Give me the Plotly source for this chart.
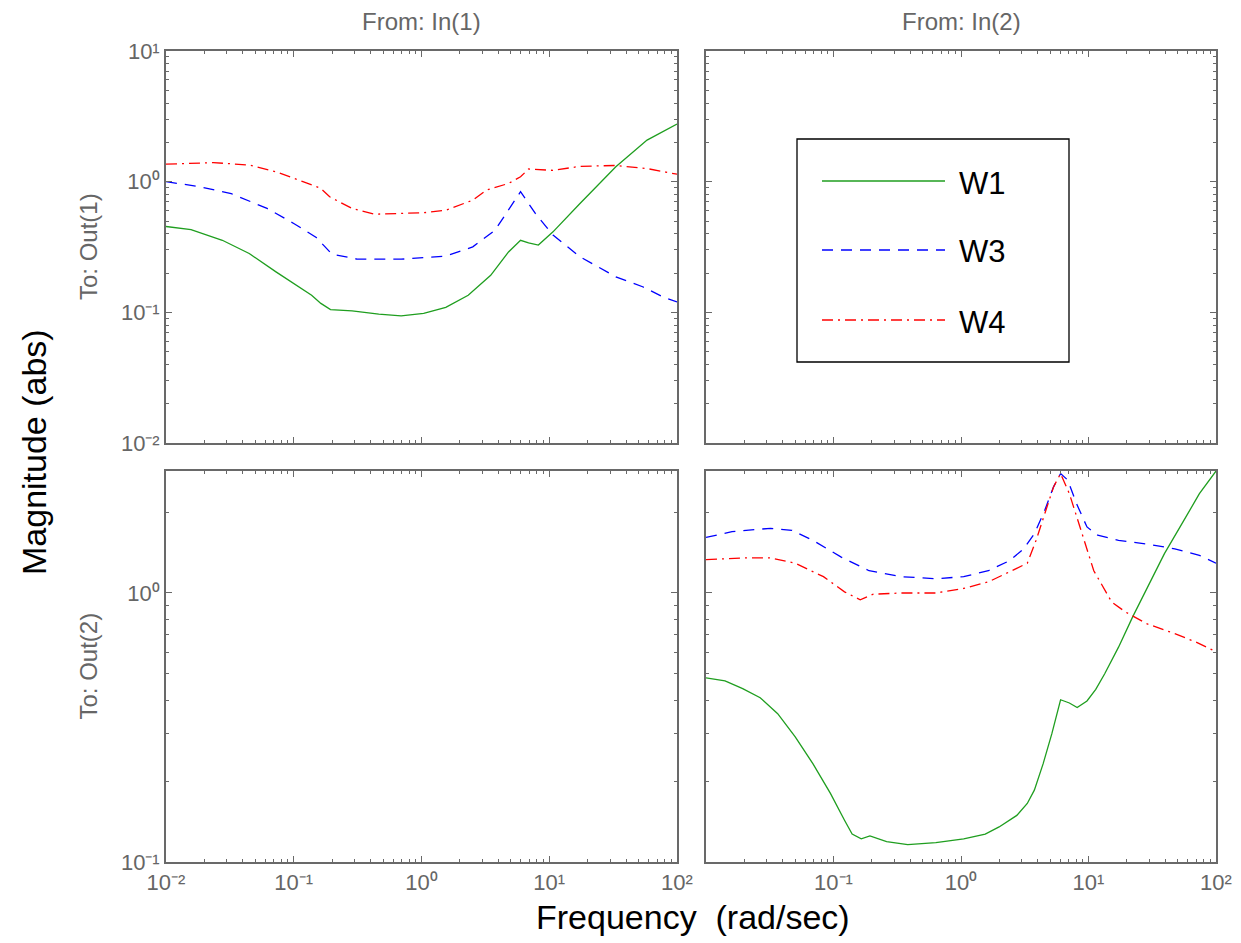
import plotly.graph_objects as go

# ---------------- data ----------------
# Top-left panel: From In(1) -> To Out(1)
f11_w1 = [0.01, 0.0157, 0.0276, 0.0448, 0.0726, 0.138, 0.163, 0.194, 0.286, 0.463, 0.693, 1.04, 1.55,
          2.32, 3.48, 4.80, 5.96, 6.89, 8.22, 10.7, 17.4, 33.2, 58.3, 100]
m11_w1 = [0.454, 0.43, 0.356, 0.282, 0.204, 0.135, 0.117, 0.105, 0.1026, 0.0968, 0.094, 0.098, 0.109,
          0.135, 0.192, 0.290, 0.356, 0.340, 0.327, 0.413, 0.68, 1.30, 2.08, 2.76]

f11_w3 = [0.01, 0.0185, 0.0324, 0.0618, 0.100, 0.150, 0.176, 0.199, 0.310, 0.693, 1.55, 2.52, 3.77,
          4.80, 5.96, 7.78, 10.7, 17.4, 33.2, 53.8, 80.5, 100]
m11_w3 = [1.0, 0.914, 0.81, 0.624, 0.479, 0.374, 0.317, 0.279, 0.256, 0.255, 0.269, 0.317, 0.426,
          0.606, 0.838, 0.571, 0.39, 0.266, 0.187, 0.157, 0.129, 0.12]

f11_w4 = [0.01, 0.0235, 0.0448, 0.0726, 0.118, 0.163, 0.191, 0.286, 0.428, 1.04, 1.55, 2.52, 3.21,
          4.80, 5.96, 6.89, 10.7, 17.4, 33.2, 58.3, 100]
m11_w4 = [1.36, 1.40, 1.34, 1.19, 1.0, 0.888, 0.766, 0.624, 0.564, 0.578, 0.605, 0.722, 0.861,
          0.969, 1.09, 1.25, 1.22, 1.31, 1.33, 1.26, 1.14]

# Bottom-right panel: From In(2) -> To Out(2)
f22_w1 = [0.01, 0.0141, 0.0194, 0.0266, 0.0365, 0.0501, 0.0689, 0.0946, 0.122, 0.140, 0.165, 0.193,
          0.261, 0.382, 0.635, 1.05, 1.55, 1.99, 2.74, 3.31, 3.76, 4.41, 5.16, 6.04, 7.08, 8.15, 9.73,
          11.4, 13.4, 17.2, 22.2, 28.6, 39.4, 54.1, 74.1, 100]
m22_w1 = [0.484, 0.471, 0.441, 0.408, 0.356, 0.292, 0.232, 0.180, 0.143, 0.127, 0.122, 0.125,
          0.119, 0.116, 0.118, 0.122, 0.127, 0.135, 0.149, 0.165, 0.185, 0.232, 0.300, 0.401, 0.390,
          0.375, 0.397, 0.438, 0.501, 0.629, 0.815, 1.04, 1.40, 1.81, 2.34, 2.84]

f22_w3 = [0.01, 0.016, 0.0321, 0.0471, 0.0689, 0.115, 0.190, 0.337, 0.635, 1.05, 1.64, 2.41, 3.10,
          3.76, 4.54, 5.32, 6.04, 6.87, 8.05, 9.73, 11.8, 17.2, 28.6, 47.5, 74.1, 95.7, 100]
m22_w3 = [1.61, 1.69, 1.74, 1.71, 1.57, 1.36, 1.21, 1.15, 1.13, 1.15, 1.21, 1.32, 1.46,
          1.66, 2.03, 2.48, 2.78, 2.63, 2.15, 1.76, 1.64, 1.57, 1.52, 1.46, 1.38, 1.30, 1.29]

f22_w4 = [0.01, 0.0194, 0.0321, 0.0501, 0.0834, 0.122, 0.162, 0.203, 0.337, 0.635, 1.05, 1.64, 2.41,
          3.31, 3.88, 4.54, 5.32, 6.04, 7.08, 8.57, 11.0, 15.2, 19.5, 28.6, 47.5, 69.7, 95.7, 100]
m22_w4 = [1.33, 1.35, 1.35, 1.29, 1.15, 1.01, 0.944, 0.989, 1.0, 1.0, 1.04, 1.10, 1.20,
          1.29, 1.57, 1.97, 2.48, 2.78, 2.34, 1.76, 1.21, 0.926, 0.85, 0.769, 0.706, 0.657, 0.612, 0.605]

series_names = ["W1", "W3", "W4"]
series_colors = ["#1f9e1f", "#0000ff", "#ff0000"]
series_dash = ["solid", "11px,8px", "11px,5px,2px,5px"]

x_tickvals_left = [0.01, 0.1, 1, 10, 100]
x_ticktext_left = ["10⁻²", "10⁻¹", "10⁰", "10¹", "10²"]
x_tickvals_right = [0.1, 1, 10, 100]
x_ticktext_right = ["10⁻¹", "10⁰", "10¹", "10²"]
y_tickvals_top = [0.01, 0.1, 1, 10]
y_ticktext_top = ["10⁻²", "10⁻¹", "10⁰", "10¹"]
y_tickvals_bot = [0.1, 1]
y_ticktext_bot = ["10⁻¹", "10⁰"]

col_titles = ["From: In(1)", "From: In(2)"]
row_titles = ["To: Out(1)", "To: Out(2)"]
y_title = "Magnitude (abs)"
x_title = "Frequency\u00a0 (rad/sec)"

# ---------------- layout geometry (pixels) ----------------
W, H = 1241, 943
def px(x):
    return x / W
def py(y):
    return 1 - y / H

col_x = [(166, 677), (706, 1216)]
row_y = [(51, 443), (471, 862)]

minor_vals = [m * 10 ** e for e in range(-3, 3) for m in range(2, 10)]

FAM = "Liberation Sans, Arial, Helvetica, sans-serif"
AX = "#696969"
TICKFONT = dict(family=FAM, size=22, color="#666666")

fig = go.Figure()

def add_series(fs, ms, xa, ya, i):
    fig.add_trace(go.Scatter(
        x=fs, y=ms, mode="lines", name=series_names[i], xaxis=xa, yaxis=ya,
        line=dict(color=series_colors[i], width=1.3, dash=series_dash[i]),
        showlegend=False))

add_series(f11_w1, m11_w1, "x", "y", 0)
add_series(f11_w3, m11_w3, "x", "y", 1)
add_series(f11_w4, m11_w4, "x", "y", 2)
add_series(f22_w1, m22_w1, "x4", "y4", 0)
add_series(f22_w3, m22_w3, "x4", "y4", 1)
add_series(f22_w4, m22_w4, "x4", "y4", 2)
# empty panels
fig.add_trace(go.Scatter(x=[], y=[], xaxis="x2", yaxis="y2", showlegend=False))
fig.add_trace(go.Scatter(x=[], y=[], xaxis="x3", yaxis="y3", showlegend=False))

def axis_common():
    return dict(type="log", showline=True, linecolor=AX, linewidth=1.8, mirror="ticks",
                ticks="inside", ticklen=6, tickwidth=1.2, tickcolor=AX,
                showgrid=False, zeroline=False, automargin=False, tickfont=TICKFONT,
                minor=dict(ticks="inside", ticklen=3, tickwidth=1, tickcolor=AX,
                           showgrid=False, tickvals=minor_vals))

layout = dict(width=W, height=H, paper_bgcolor="white", plot_bgcolor="white",
              margin=dict(l=0, r=0, t=0, b=0), showlegend=False)

idx = {(0, 0): "", (0, 1): "2", (1, 0): "3", (1, 1): "4"}
for (r, c), k in idx.items():
    xa = axis_common()
    xa.update(domain=[px(col_x[c][0]), px(col_x[c][1])], anchor="y" + k, range=[-2, 2])
    if r == 1:
        if c == 0:
            xa.update(tickvals=x_tickvals_left, ticktext=x_ticktext_left, showticklabels=True)
        else:
            xa.update(tickvals=x_tickvals_right, ticktext=x_ticktext_right, showticklabels=True)
    else:
        xa.update(tickvals=x_tickvals_left, showticklabels=False)
    ya = axis_common()
    ya.update(domain=[py(row_y[r][1]), py(row_y[r][0])], anchor="x" + k)
    if r == 0:
        ya.update(range=[-2, 1], tickvals=y_tickvals_top, ticktext=y_ticktext_top)
    else:
        ya.update(range=[-1, 0.4535], tickvals=y_tickvals_bot, ticktext=y_ticktext_bot)
    ya.update(showticklabels=(c == 0))
    layout["xaxis" + k] = xa
    layout["yaxis" + k] = ya

fig.update_layout(**layout)

GRAYFONT = dict(family=FAM, size=24, color="#666666")
BLKFONT = dict(family=FAM, size=34, color="black")

for c in range(2):
    fig.add_annotation(text=col_titles[c], x=px(sum(col_x[c]) / 2), y=py(22), xref="paper", yref="paper",
                       showarrow=False, xanchor="center", yanchor="middle", font=GRAYFONT)
for r in range(2):
    fig.add_annotation(text=row_titles[r], x=px(88), y=py(sum(row_y[r]) / 2), xref="paper", yref="paper",
                       showarrow=False, xanchor="center", yanchor="middle", textangle=-90, font=GRAYFONT)
fig.add_annotation(text=y_title, x=px(34), y=py(452), xref="paper", yref="paper", showarrow=False,
                   xanchor="center", yanchor="middle", textangle=-90, font=BLKFONT)
fig.add_annotation(text=x_title, x=px(693), y=py(917), xref="paper", yref="paper", showarrow=False,
                   xanchor="center", yanchor="middle", font=BLKFONT)

# legend box drawn in the top-right panel
fig.add_shape(type="rect", xref="paper", yref="paper", x0=px(797), x1=px(1069), y0=py(362), y1=py(139),
              line=dict(color="black", width=1.3), fillcolor="white")
leg_y = [181, 250, 320]
for i in range(3):
    fig.add_shape(type="line", xref="paper", yref="paper", x0=px(822), x1=px(945), y0=py(leg_y[i]), y1=py(leg_y[i]),
                  line=dict(color=series_colors[i], width=1.3, dash=series_dash[i]))
    fig.add_annotation(text=series_names[i], x=px(957), y=py(leg_y[i] + 2), xref="paper", yref="paper",
                       showarrow=False, xanchor="left", yanchor="middle",
                       font=dict(family=FAM, size=31, color="black"))

fig.write_html("out.html", config={"displayModeBar": False},
               post_script="document.body.style.margin='0';document.body.style.overflow='hidden';")
